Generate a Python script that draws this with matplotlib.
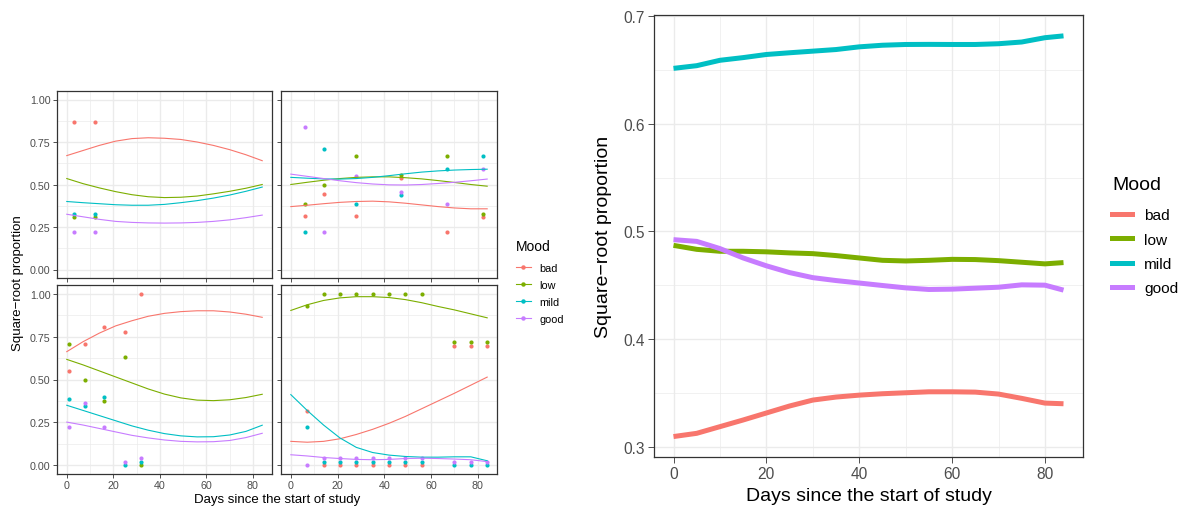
import matplotlib
matplotlib.use("Agg")
import matplotlib.pyplot as plt
from matplotlib.lines import Line2D

plt.rcParams['font.family'] = ['Liberation Sans', 'DejaVu Sans']

moods = ["bad", "low", "mild", "good"]
mood_colors = ["#F8766D", "#7CAE00", "#00BFC4", "#C77CFF"]

# ---- facet panels: observed points ----
p1_days = [3, 12]
p1_bad = [0.866, 0.866]
p1_low = [0.306, 0.306]
p1_mild = [0.327, 0.327]
p1_good = [0.222, 0.222]

p2_days = [6, 14, 28, 47, 67, 82]
p2_bad = [0.316, 0.446, 0.316, 0.536, 0.222, 0.306]
p2_low = [0.386, 0.500, 0.670, 0.557, 0.670, 0.327]
p2_mild = [0.222, 0.706, 0.386, 0.437, 0.590, 0.670]
p2_good = [0.836, 0.222, 0.548, 0.456, 0.386, 0.590]

p3_days = [1, 8, 16, 25, 32]
p3_bad = [0.548, 0.707, 0.806, 0.775, 1.000]
p3_low = [0.707, 0.500, 0.377, 0.633, 0.000]
p3_mild = [0.389, 0.346, 0.398, 0.000, 0.018]
p3_good = [0.223, 0.363, 0.223, 0.021, 0.041]

p4_days = [7, 14, 21, 28, 35, 42, 49, 56, 70, 77, 84]
p4_bad = [0.316, 0, 0, 0, 0, 0, 0, 0, 0.697, 0.697, 0.697]
p4_low = [0.926, 1, 1, 1, 1, 1, 1, 1, 0.719, 0.719, 0.719]
p4_mild = [0.225, 0.018, 0.018, 0.018, 0.018, 0.018, 0.018, 0.018, 0, 0, 0]
p4_good = [0, 0.041, 0.041, 0.041, 0.041, 0.041, 0.041, 0.041, 0.021, 0.021, 0.021]

# ---- facet panels: fitted curves ----
fit_days = [0, 7, 14, 21, 28, 35, 42, 49, 56, 63, 70, 77, 84]
f1_bad = [.670, .700, .730, .755, .770, .775, .772, .765, .750, .730, .705, .675, .640]
f1_low = [.535, .505, .480, .458, .440, .428, .423, .425, .432, .445, .460, .478, .500]
f1_mild = [.400, .393, .387, .381, .378, .378, .383, .393, .405, .420, .438, .460, .485]
f1_good = [.325, .310, .295, .283, .277, .274, .273, .274, .277, .283, .292, .305, .320]

f2_bad = [.370, .378, .387, .395, .400, .402, .398, .390, .380, .370, .362, .357, .357]
f2_low = [.500, .513, .525, .535, .542, .545, .545, .540, .533, .523, .512, .500, .490]
f2_mild = [.542, .537, .533, .532, .535, .542, .552, .563, .573, .580, .585, .588, .590]
f2_good = [.561, .548, .535, .522, .511, .503, .498, .497, .500, .506, .513, .522, .532]

f3_bad = [.662, .720, .770, .812, .842, .868, .885, .895, .900, .900, .893, .880, .862]
f3_low = [.617, .585, .550, .515, .480, .445, .415, .393, .380, .377, .382, .395, .414]
f3_mild = [.350, .320, .290, .260, .230, .205, .185, .172, .166, .167, .177, .198, .234]
f3_good = [.252, .235, .215, .195, .175, .160, .148, .140, .137, .138, .145, .162, .187]

f4_bad = [.140, .135, .140, .155, .180, .210, .245, .285, .330, .375, .420, .467, .514]
f4_low = [.902, .935, .960, .975, .982, .982, .977, .965, .947, .925, .905, .882, .859]
f4_mild = [.412, .320, .235, .160, .105, .075, .060, .052, .048, .048, .050, .050, .027]
f4_good = [.062, .055, .046, .040, .035, .033, .035, .040, .042, .040, .037, .033, .022]

# ---- right panel: averaged smooth ----
avg_days = [0, 5, 10, 15, 20, 25, 30, 35, 40, 45, 50, 55, 60, 65, 70, 75, 80, 84]
avg_bad = [.3093, .3123, .3185, .3247, .3312, .3377, .3432, .3460, .3478, .3491, .3500,
           .3509, .3509, .3506, .3488, .3448, .3404, .3398]
avg_low = [.4870, .4833, .4815, .4815, .4810, .4800, .4793, .4775, .4753, .4731, .4725,
           .4731, .4740, .4738, .4728, .4713, .4698, .4710]
avg_mild = [.6515, .6540, .6590, .6615, .6644, .6660, .6675, .6690, .6715, .6730, .6737,
            .6738, .6737, .6737, .6744, .6760, .6800, .6817]
avg_good = [.4923, .4907, .4840, .4753, .4680, .4617, .4570, .4543, .4520, .4497, .4475,
            .4460, .4463, .4472, .4481, .4503, .4500, .4454]

x_ticks = [0, 20, 40, 60, 80]
x_minor = [10, 30, 50, 70]
facet_yticks = [0.0, 0.25, 0.5, 0.75, 1.0]
facet_ylabels = ["0.00", "0.25", "0.50", "0.75", "1.00"]
facet_yminor = [0.125, 0.375, 0.625, 0.875]
avg_yticks = [0.3, 0.4, 0.5, 0.6, 0.7]
avg_yminor = [0.35, 0.45, 0.55, 0.65]

W, H = 1186, 510
fig = plt.figure(figsize=(W / 100, H / 100), dpi=100)


def px_axes(x0, y0, x1, y1):
    return fig.add_axes([x0 / W, 1 - y1 / H, (x1 - x0) / W, (y1 - y0) / H])


GRID = "#EBEBEB"
BORDER = "#333333"
TICKC = "#4D4D4D"


def style(ax, yt, ymin, xlab, ylab, fs, ylabels=None):
    ax.set_xticks(x_ticks)
    ax.set_xticks(x_minor, minor=True)
    ax.set_yticks(yt)
    ax.set_yticks(ymin, minor=True)
    ax.grid(True, which="major", color=GRID, lw=1.0, zorder=0)
    ax.grid(True, which="minor", color=GRID, lw=0.5, zorder=0)
    ax.set_axisbelow(True)
    for s in ax.spines.values():
        s.set_color(BORDER)
        s.set_linewidth(0.9)
    ax.tick_params(which="major", length=3, width=0.6, color=BORDER,
                   labelcolor=TICKC, labelsize=fs, pad=1.5)
    ax.tick_params(which="minor", length=0)
    if ylabels is not None:
        ax.set_yticklabels(ylabels)
    if not xlab:
        ax.tick_params(axis="x", labelbottom=False)
    if not ylab:
        ax.tick_params(axis="y", labelleft=False)


panels = [
    ((57, 92, 272, 279), p1_days, [p1_bad, p1_low, p1_mild, p1_good],
     [f1_bad, f1_low, f1_mild, f1_good], False, True),
    ((281, 92, 497, 279), p2_days, [p2_bad, p2_low, p2_mild, p2_good],
     [f2_bad, f2_low, f2_mild, f2_good], False, False),
    ((57, 286, 272, 475), p3_days, [p3_bad, p3_low, p3_mild, p3_good],
     [f3_bad, f3_low, f3_mild, f3_good], True, True),
    ((281, 286, 497, 475), p4_days, [p4_bad, p4_low, p4_mild, p4_good],
     [f4_bad, f4_low, f4_mild, f4_good], True, False),
]

for box, days, pts, fits, xl, yl in panels:
    ax = px_axes(*box)
    for vals, c in zip(pts, mood_colors):
        ax.scatter(days, vals, s=9, color=c, linewidths=0, zorder=3)
    for vals, c in zip(fits, mood_colors):
        ax.plot(fit_days, vals, color=c, lw=0.8, zorder=4)
    ax.set_xlim(-4.2, 88.2)
    ax.set_ylim(-0.05, 1.05)
    style(ax, facet_yticks, facet_yminor, xl, yl, 7.7, facet_ylabels)

fig.text(18 / W, 1 - 283 / H, "Square\u2212root proportion", rotation=90,
         ha="center", va="center", fontsize=9.5)
fig.text(277 / W, 1 - 500 / H, "Days since the start of study",
         ha="center", va="center", fontsize=9.5)

left_handles = [Line2D([], [], color=c, lw=0.8, marker="o", markersize=3.2,
                       markeredgewidth=0) for c in mood_colors]
leg1 = fig.legend(left_handles, moods, title="Mood", loc="upper left",
                  bbox_to_anchor=(511 / W, 1 - 235 / H), frameon=False,
                  fontsize=7.8, title_fontsize=10, handlelength=1.35,
                  handletextpad=0.8, labelspacing=0.65, borderpad=0.46,
                  borderaxespad=0)
leg1._legend_box.align = "left"
leg1._legend_box.sep = 7.3

# ---- right panel ----
ax = px_axes(654, 16, 1083, 458)
for vals, c in zip([avg_bad, avg_low, avg_mild, avg_good], mood_colors):
    ax.plot(avg_days, vals, color=c, lw=3.6, solid_capstyle="butt", zorder=3)
ax.set_xlim(-4.2, 88.2)
ax.set_ylim(0.2903, 0.7011)
style(ax, avg_yticks, avg_yminor, True, True, 11.2)
ax.tick_params(which="major", length=4, pad=2.5)
ax.set_xlabel("Days since the start of study", fontsize=14, labelpad=4)
ax.set_ylabel("Square\u2212root proportion", fontsize=14, labelpad=8)

right_handles = [Line2D([], [], color=c, lw=3.6) for c in mood_colors]
leg2 = fig.legend(right_handles, moods, title="Mood", loc="upper left",
                  bbox_to_anchor=(1100.4 / W, 1 - 165.4 / H), frameon=False,
                  fontsize=11.1, title_fontsize=14, handlelength=1.3,
                  handletextpad=0.8, labelspacing=0.67, borderpad=0.75,
                  borderaxespad=0)
leg2._legend_box.align = "left"
leg2._legend_box.sep = 11.0

fig.savefig("out.png", dpi=100)
